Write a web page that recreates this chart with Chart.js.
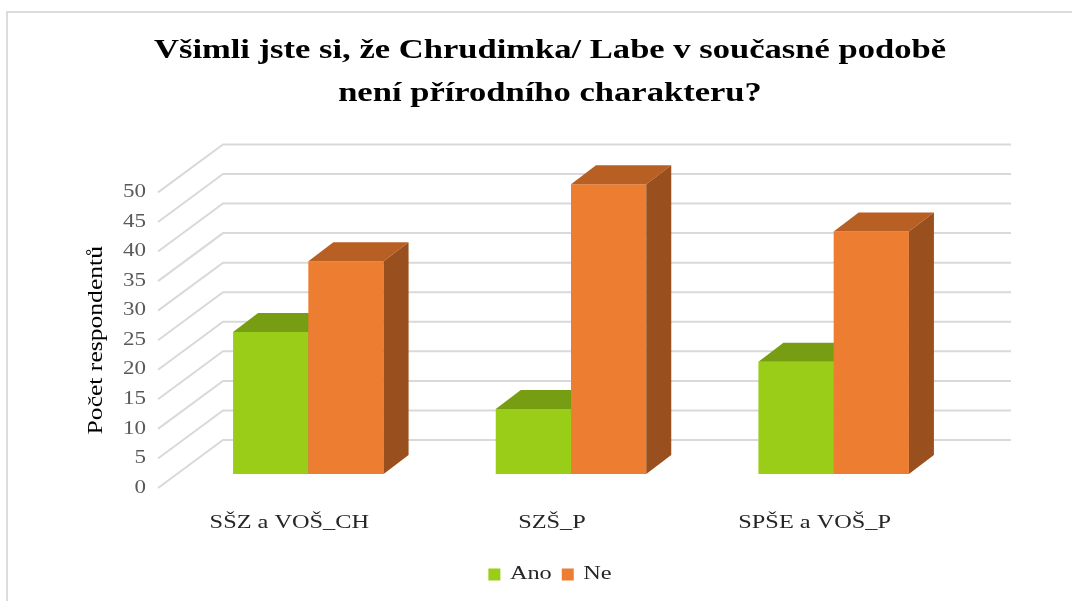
<!DOCTYPE html>
<html>
<head>
<meta charset="utf-8">
<script src="https://cdn.jsdelivr.net/npm/chart.js@4/dist/chart.umd.min.js"></script>
<style>
    html, body { margin: 0; padding: 0; background: #fff; overflow: hidden; }
    #wrap { position: relative; width: 1072px; height: 601px; }
    #frame { position: absolute; left: 6px; top: 11px; right: 0; bottom: 0; border-top: 2px solid #dcdcdc; border-left: 2px solid #dcdcdc; }
    canvas { position: absolute; left: 0; top: 0; }
</style>
</head>
<body>
<div id="wrap">
    <div id="frame"></div>
    <canvas id="chart" width="1072" height="601"></canvas>
</div>
<script>
// Chart data
const categories = ['SŠZ a VOŠ_CH', 'SZŠ_P', 'SPŠE a VOŠ_P'];
const anoValues = [24, 11, 19];
const neValues = [36, 49, 41];
const yTicks = { min: 0, max: 50, step: 5 };

// 3D look: back wall offset, bar shift from the floor edge, bar depth
const FLOOR = { dx: 65, dy: -48 };
const BAR_SHIFT = { dx: 19, dy: -14 };
const BAR_DEPTH = { dx: 25, dy: -19 };

// the original uses a wide serif face, so text is stretched along its baseline
const TEXT_STRETCH = 1.28;
const serif = "'Liberation Serif', 'Times New Roman', serif";

function stretchText(ctx) {
    const fill = ctx.fillText.bind(ctx);
    const measure = ctx.measureText.bind(ctx);
    ctx.fillText = (text, x, y, maxWidth) => {
        ctx.save();
        ctx.translate(x, y);
        ctx.scale(TEXT_STRETCH, 1);
        if (maxWidth !== undefined) fill(text, 0, 0, maxWidth / TEXT_STRETCH);
        else fill(text, 0, 0);
        ctx.restore();
    };
    ctx.measureText = text => {
        const m = measure(text);
        return {
            width: m.width * TEXT_STRETCH,
            actualBoundingBoxAscent: m.actualBoundingBoxAscent,
            actualBoundingBoxDescent: m.actualBoundingBoxDescent,
            actualBoundingBoxLeft: m.actualBoundingBoxLeft * TEXT_STRETCH,
            actualBoundingBoxRight: m.actualBoundingBoxRight * TEXT_STRETCH
        };
    };
}

function drawFaces(ctx, bar, ds) {
    const { x, y, base, width } = bar.getProps(['x', 'y', 'base', 'width'], true);
    const l = x - width / 2, r = x + width / 2;
    // top face
    ctx.fillStyle = ds.topColor;
    ctx.beginPath();
    ctx.moveTo(l, y);
    ctx.lineTo(l + BAR_DEPTH.dx, y + BAR_DEPTH.dy);
    ctx.lineTo(r + BAR_DEPTH.dx, y + BAR_DEPTH.dy);
    ctx.lineTo(r, y);
    ctx.closePath();
    ctx.fill();
    // side face
    ctx.fillStyle = ds.sideColor;
    ctx.beginPath();
    ctx.moveTo(r, y);
    ctx.lineTo(r + BAR_DEPTH.dx, y + BAR_DEPTH.dy);
    ctx.lineTo(r + BAR_DEPTH.dx, base + BAR_DEPTH.dy);
    ctx.lineTo(r, base);
    ctx.closePath();
    ctx.fill();
}

const box3d = {
    id: 'box3d',
    beforeDatasetsDraw(chart) {
        const { ctx, chartArea, scales: { y } } = chart;
        // back wall + floor gridlines
        ctx.save();
        ctx.strokeStyle = '#d9d9d9';
        ctx.lineWidth = 2;
        y.ticks.forEach(t => {
            const py = y.getPixelForValue(t.value);
            ctx.beginPath();
            ctx.moveTo(chartArea.left, py);
            ctx.lineTo(chartArea.left + FLOOR.dx, py + FLOOR.dy);
            ctx.lineTo(chartArea.right + FLOOR.dx, py + FLOOR.dy);
            ctx.stroke();
        });
        ctx.restore();
    },
    // skip the default drawing, bars are drawn below in series order
    beforeDatasetDraw() {
        return false;
    },
    afterDatasetsDraw(chart) {
        const ctx = chart.ctx;
        ctx.save();
        ctx.translate(BAR_SHIFT.dx, BAR_SHIFT.dy);
        chart.data.datasets.forEach((ds, i) => {
            chart.getDatasetMeta(i).data.forEach(bar => {
                bar.draw(ctx);
                drawFaces(ctx, bar, ds);
            });
        });
        ctx.restore();
    }
};

const ctx = document.getElementById('chart').getContext('2d');
stretchText(ctx);

new Chart(ctx, {
    type: 'bar',
    data: {
        labels: categories,
        datasets: [{
            label: 'Ano',
            data: anoValues,
            backgroundColor: '#9acd18',
            topColor: '#779e12',
            sideColor: '#658a0f',
            categoryPercentage: 0.573,
            barPercentage: 1.0
        }, {
            label: 'Ne',
            data: neValues,
            backgroundColor: '#ed7d31',
            topColor: '#b85f24',
            sideColor: '#9a4f1e',
            categoryPercentage: 0.573,
            barPercentage: 1.0
        }]
    },
    options: {
        responsive: false,
        animation: false,
        layout: { padding: { left: 28, right: 0, top: 0, bottom: 7 } },
        plugins: {
            title: {
                display: true,
                text: ['Všimli jste si, že Chrudimka/ Labe v současné podobě', 'není přírodního charakteru?'],
                color: '#000',
                font: { family: serif, size: 27, weight: 'bold', lineHeight: 1.6 },
                padding: { top: 29, bottom: 77 }
            },
            legend: {
                position: 'bottom',
                labels: {
                    color: '#262626',
                    font: { family: serif, size: 19 },
                    boxWidth: 12,
                    boxHeight: 12,
                    padding: 10
                }
            },
            tooltip: { enabled: false }
        },
        scales: {
            x: {
                grid: { display: false, drawTicks: false },
                border: { display: false },
                ticks: { color: '#262626', font: { family: serif, size: 19 }, padding: 24 },
                afterFit: s => { s.height = 67; }
            },
            y: {
                min: yTicks.min,
                max: yTicks.max,
                grid: { display: false, drawTicks: false },
                border: { display: false },
                ticks: { stepSize: yTicks.step, color: '#595959', font: { family: serif, size: 18 }, padding: 12 },
                title: {
                    display: true,
                    text: 'Počet respondentů',
                    color: '#000',
                    font: { family: serif, size: 20 },
                    padding: { top: 57, bottom: 0 }
                },
                afterFit: s => { s.width = 130; }
            },
            y2: {
                position: 'right',
                display: true,
                grid: { display: false, drawTicks: false },
                border: { display: false },
                ticks: { display: false },
                afterFit: s => { s.width = 126; }
            }
        }
    },
    plugins: [box3d]
});
</script>
</body>
</html>
